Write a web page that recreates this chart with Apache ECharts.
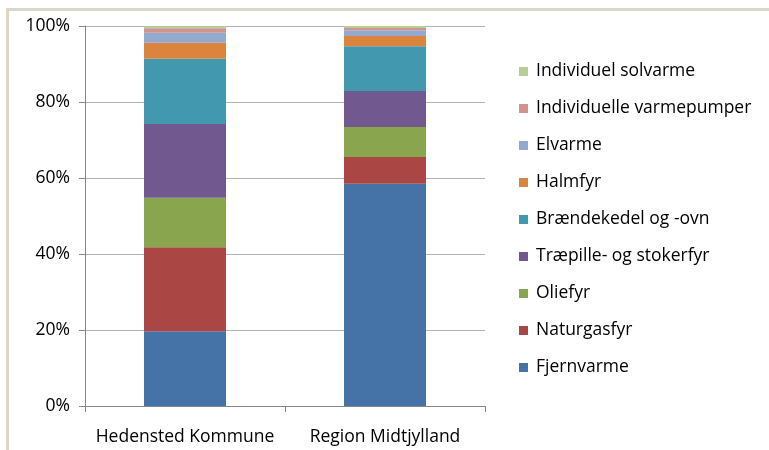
<!DOCTYPE html>
<html>
<head>
<meta charset="utf-8">
<script src="https://cdn.jsdelivr.net/npm/echarts@6/dist/echarts.min.js"></script>
<style>
  html, body { margin: 0; padding: 0; background: #ffffff; }
  #frame { position: absolute; left: 6px; top: 8px; width: 763px; height: 442px;
           border-left: 3px solid #dcd8c8; border-top: 3px solid #dcd8c8; box-sizing: border-box; }
  #chart { position: absolute; left: 0; top: 0; width: 769px; height: 450px; }
</style>
</head>
<body>
<div id="frame"></div>
<div id="chart"></div>
<script>
// Heating sources, share of dwellings (%), per area
const categories = ['Hedensted Kommune', 'Region Midtjylland'];

const fjernvarme   = [19.7, 58.5];
const naturgasfyr  = [22.1, 7.0];
const oliefyr      = [13.0, 7.9];
const traepille    = [19.4, 9.5];
const braendekedel = [17.2, 11.8];
const halmfyr      = [4.2, 2.7];
const elvarme      = [2.6, 1.5];
const varmepumper  = [1.2, 0.6];
const solvarme     = [0.6, 0.5];

const seriesNames = ['Fjernvarme', 'Naturgasfyr', 'Oliefyr', 'Træpille- og stokerfyr',
  'Brændekedel og -ovn', 'Halmfyr', 'Elvarme', 'Individuelle varmepumper', 'Individuel solvarme'];
const seriesValues = [fjernvarme, naturgasfyr, oliefyr, traepille, braendekedel,
  halmfyr, elvarme, varmepumper, solvarme];
const seriesColors = ['#4572A7', '#AA4643', '#89A54E', '#71588F', '#4198AF',
  '#DB843D', '#93A9CF', '#D19392', '#B9CD96'];

const yTicks = [0, 20, 40, 60, 80, 100];

const font = '"Open Sans", Lato, sans-serif';
const fontSize = 17.5;

const chart = echarts.init(document.getElementById('chart'), null, { renderer: 'canvas' });

chart.setOption({
  animation: false,
  textStyle: { fontFamily: font },
  grid: { left: 85, right: 284, top: 26, bottom: 44, containLabel: false },
  legend: {
    orient: 'vertical',
    left: 514,
    top: 57,
    itemWidth: 9,
    itemHeight: 9,
    itemGap: 18,
    icon: 'rect',
    data: seriesNames.slice().reverse(),
    textStyle: { fontFamily: font, fontSize: fontSize, color: '#000000', padding: [0, 0, 0, 3], lineHeight: 19 }
  },
  xAxis: {
    type: 'category',
    data: categories,
    axisLine: { lineStyle: { color: '#868686', width: 1 } },
    axisTick: { show: true, length: 6, alignWithLabel: false, lineStyle: { color: '#868686' } },
    axisLabel: { color: '#000000', fontSize: fontSize, fontFamily: font, margin: 22, interval: 0, hideOverlap: false },
    splitLine: { show: false }
  },
  yAxis: {
    type: 'value',
    min: yTicks[0],
    max: yTicks[yTicks.length - 1],
    interval: 20,
    axisLine: { show: true, lineStyle: { color: '#868686', width: 1 } },
    axisTick: { show: true, length: 6, lineStyle: { color: '#868686' } },
    axisLabel: { color: '#000000', fontSize: fontSize, fontFamily: font, margin: 15, formatter: '{value}%' },
    splitLine: { show: true, lineStyle: { color: '#b3b3b3', width: 1 } }
  },
  series: seriesNames.map((name, i) => ({
    name: name,
    type: 'bar',
    stack: 'total',
    barWidth: '41%',
    itemStyle: { color: seriesColors[i] },
    data: seriesValues[i]
  }))
});
</script>
</body>
</html>
